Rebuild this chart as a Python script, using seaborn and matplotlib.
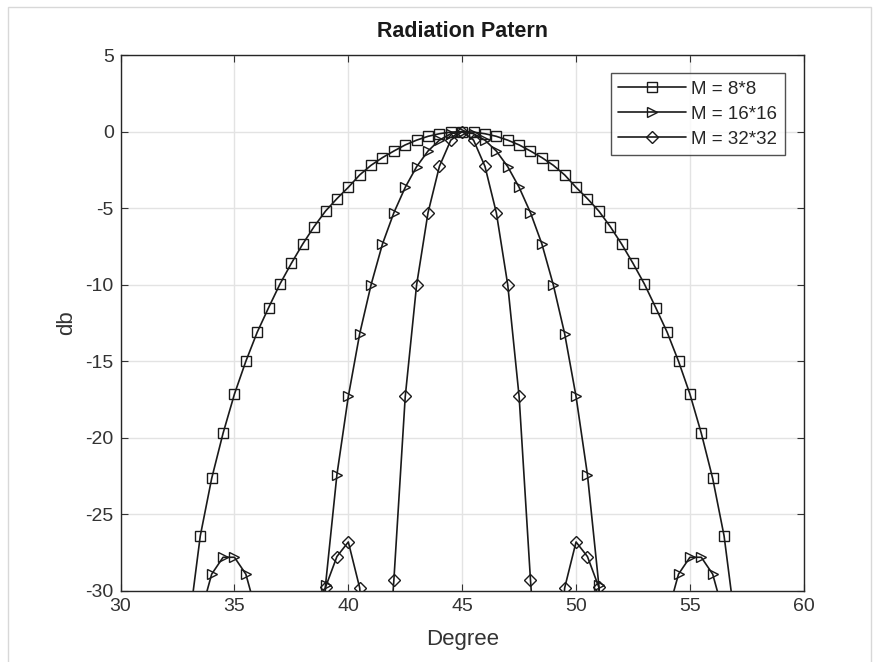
import numpy as np
import pandas as pd
import matplotlib
matplotlib.use("Agg")
import matplotlib.pyplot as plt
import seaborn as sns

# ---- data ----
degree = [30.0, 30.5, 31.0, 31.5, 32.0, 32.5, 33.0, 33.5, 34.0, 34.5,
          35.0, 35.5, 36.0, 36.5, 37.0, 37.5, 38.0, 38.5, 39.0, 39.5,
          40.0, 40.5, 41.0, 41.5, 42.0, 42.5, 43.0, 43.5, 44.0, 44.5,
          45.0, 45.5, 46.0, 46.5, 47.0, 47.5, 48.0, 48.5, 49.0, 49.5,
          50.0, 50.5, 51.0, 51.5, 52.0, 52.5, 53.0, 53.5, 54.0, 54.5,
          55.0, 55.5, 56.0, 56.5, 57.0, 57.5, 58.0, 58.5, 59.0, 59.5, 60.0]

db_8x8 = [-40, -40, -40, -40, -40, -40, -32.2, -26.4, -22.65, -19.7,
          -17.14, -15.0, -13.1, -11.5, -9.95, -8.6, -7.34, -6.2, -5.19, -4.38,
          -3.64, -2.83, -2.2, -1.7, -1.27, -0.87, -0.56, -0.31, -0.14, -0.035,
          0.0, -0.035, -0.14, -0.31, -0.56, -0.87, -1.27, -1.7, -2.2, -2.83,
          -3.64, -4.38, -5.19, -6.2, -7.34, -8.6, -9.95, -11.5, -13.1, -15.0,
          -17.14, -19.7, -22.65, -26.4, -32.2, -40, -40, -40, -40, -40, -40]

db_16x16 = [-40, -40, -40, -40, -40, -40, -40, -31.6, -28.9, -27.8,
            -27.8, -28.9, -31.6, -40, -40, -40, -40, -40, -29.6, -22.4,
            -17.3, -13.2, -10.0, -7.34, -5.3, -3.64, -2.29, -1.27, -0.56, -0.14,
            0.0, -0.14, -0.56, -1.27, -2.29, -3.64, -5.3, -7.34, -10.0, -13.2,
            -17.3, -22.4, -29.6, -40, -40, -40, -40, -40, -31.6, -28.9,
            -27.8, -27.8, -28.9, -31.6, -40, -40, -40, -40, -40, -40, -40]

db_32x32 = [-40, -40, -40, -40, -40, -40, -40, -40, -40, -40,
            -40, -40, -40, -40, -40, -40, -40, -40, -29.75, -27.75,
            -26.8, -29.8, -40, -40, -29.3, -17.3, -10.0, -5.3, -2.27, -0.56,
            0.0, -0.56, -2.27, -5.3, -10.0, -17.3, -29.3, -40, -40, -29.8,
            -26.8, -27.75, -29.75, -40, -40, -40, -40, -40, -40, -40,
            -40, -40, -40, -40, -40, -40, -40, -40, -40, -40, -40]

series_labels = ["M = 8*8", "M = 16*16", "M = 32*32"]
series_values = [db_8x8, db_16x16, db_32x32]
series_markers = ["s", ">", "D"]

title_text = "Radiation Patern"
xlabel_text = "Degree"
ylabel_text = "db"
xticks = [30, 35, 40, 45, 50, 55, 60]
yticks = [-30, -25, -20, -15, -10, -5, 0, 5]

# ---- style ----
sns.set_theme(style="white")
plt.rcParams["font.family"] = ["Liberation Sans", "DejaVu Sans"]
plt.rcParams["axes.unicode_minus"] = False

fig = plt.figure(figsize=(8.77, 6.62), dpi=100)
ax = fig.add_axes([0.1375, 0.1073, 0.779, 0.8096])

frames = []
for lab, vals in zip(series_labels, series_values):
    frames.append(pd.DataFrame({"Degree": degree, "db": vals, "M": lab}))
df = pd.concat(frames, ignore_index=True)

for lab, mk in zip(series_labels, series_markers):
    sub = df[df["M"] == lab]
    sns.lineplot(data=sub, x="Degree", y="db", ax=ax, label=lab,
                 color="#1a1a1a", linewidth=1.2, marker=mk,
                 markersize=7.5 if mk != "D" else 6.5,
                 markerfacecolor="none", markeredgecolor="#1a1a1a",
                 markeredgewidth=1.0, sort=False, estimator=None)

ax.set_xlim(30, 60)
ax.set_ylim(-30, 5)
ax.set_xticks(xticks)
ax.set_yticks(yticks)
ax.grid(True, color="#e3e3e3", linewidth=1.0)
ax.set_axisbelow(True)
for s in ax.spines.values():
    s.set_color("#262626")
    s.set_linewidth(1.0)
ax.tick_params(direction="in", length=5, width=0.8, colors="#333333",
               labelsize=14, top=True, right=True, bottom=True, left=True,
               pad=5)
ax.set_title(title_text, fontsize=15.5, fontweight="bold", color="#1a1a1a", pad=13)
ax.set_xlabel(xlabel_text, fontsize=16, color="#333333", labelpad=10)
ax.set_ylabel(ylabel_text, fontsize=16, color="#333333", labelpad=6)

leg = ax.legend(loc="upper right", bbox_to_anchor=(0.9725, 0.966),
                fontsize=13.5, handlelength=3.6, frameon=True, fancybox=False,
                edgecolor="#262626", borderpad=0.4, labelspacing=0.42,
                handletextpad=0.3, borderaxespad=0.0)
leg.get_frame().set_linewidth(1.0)

# light frame around the whole figure (screenshot border)
fig.patches.append(plt.Rectangle((0.009, -0.01), 0.984, 0.999, transform=fig.transFigure,
                                 fill=False, edgecolor="#d8d8d8", linewidth=1.0))

fig.savefig("out.png", dpi=100, facecolor="white")
